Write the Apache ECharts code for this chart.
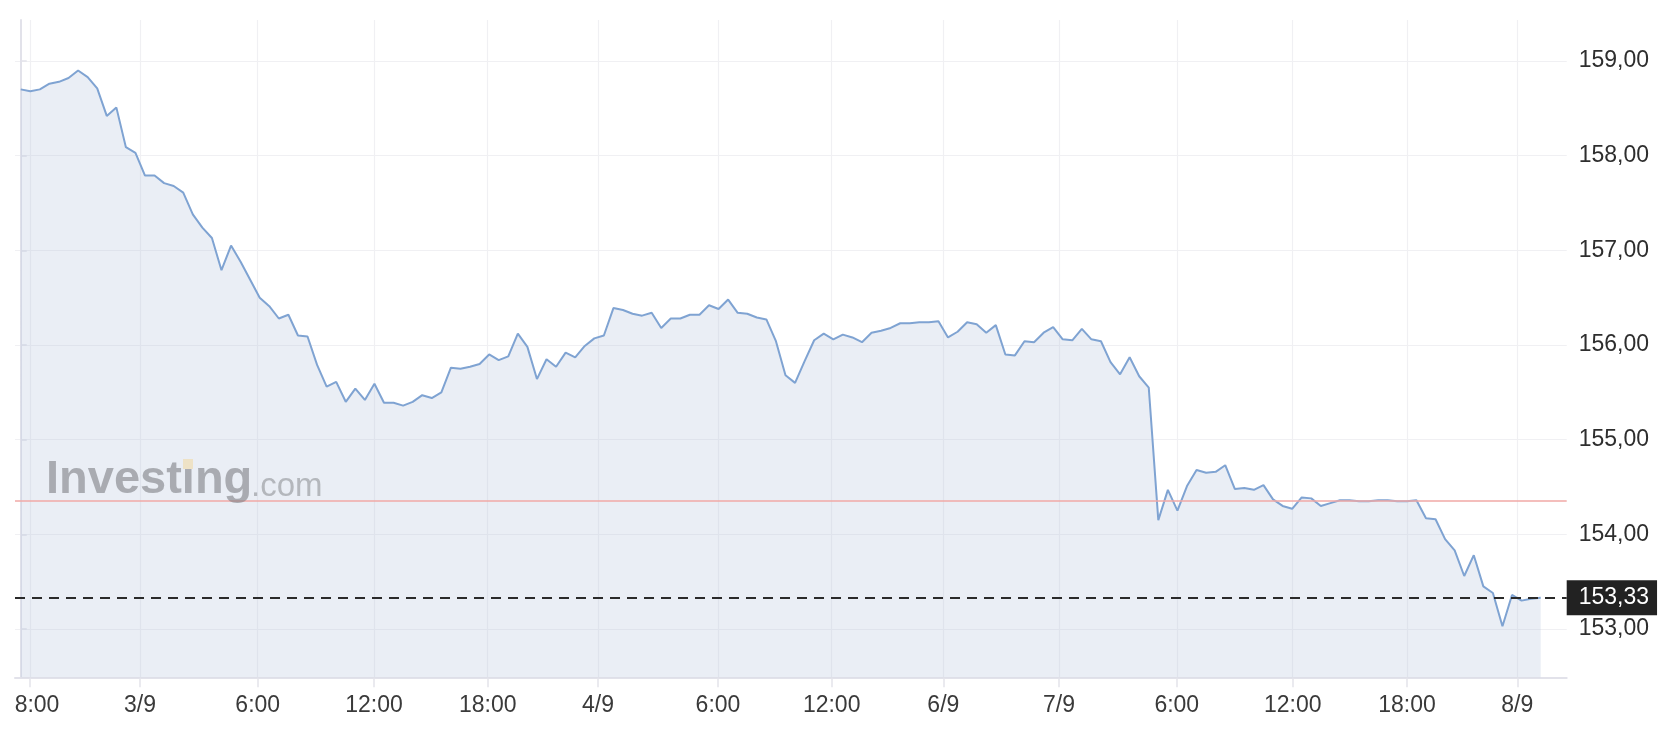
<!DOCTYPE html>
<html>
<head>
<meta charset="utf-8">
<script src="https://cdn.jsdelivr.net/npm/echarts@6/dist/echarts.min.js"></script>
<style>
html,body{margin:0;padding:0;background:#ffffff;}
#chart{width:1678px;height:732px;}
</style>
</head>
<body>
<div id="chart"></div>
<script>
// Prices (30-minute steps), split in three segments
const pricesSegment1 = [
  158.70, 158.68, 158.70, 158.76, 158.78, 158.82, 158.90, 158.83, 158.71, 158.42,
  158.51, 158.09, 158.03, 157.79, 157.79, 157.71, 157.68, 157.61, 157.38, 157.24,
  157.13, 156.79, 157.05, 156.88, 156.69, 156.50, 156.41, 156.28, 156.32, 156.10,
  156.09, 155.79, 155.56, 155.61, 155.40, 155.54, 155.42, 155.59, 155.39, 155.39,
  155.36, 155.40, 155.47, 155.44, 155.50, 155.76, 155.75, 155.77, 155.80, 155.90,
  155.84, 155.88, 156.12
];
const pricesSegment2 = [
  155.98, 155.64, 155.85, 155.77, 155.92, 155.87, 155.99, 156.07, 156.10, 156.39,
  156.37, 156.33, 156.31, 156.34, 156.18, 156.28, 156.28, 156.32, 156.32, 156.42,
  156.38, 156.48, 156.34, 156.33, 156.29, 156.27, 156.04, 155.68, 155.60, 155.83,
  156.05, 156.12, 156.06, 156.11, 156.08, 156.03, 156.13, 156.15, 156.18, 156.23,
  156.23, 156.24, 156.24, 156.25, 156.08, 156.14, 156.24, 156.22, 156.13, 156.21,
  155.90, 155.89, 156.04
];
const pricesSegment3 = [
  156.03, 156.13, 156.19, 156.06, 156.05, 156.17, 156.06, 156.04, 155.82, 155.69,
  155.87, 155.67, 155.55, 154.15, 154.47, 154.25, 154.51, 154.68, 154.65, 154.66,
  154.73, 154.48, 154.49, 154.47, 154.52, 154.37, 154.30, 154.27, 154.39, 154.38,
  154.30, 154.33, 154.36, 154.36, 154.35, 154.35, 154.36, 154.36, 154.35, 154.35,
  154.36, 154.17, 154.16, 153.95, 153.83, 153.56, 153.78, 153.45, 153.38, 153.03,
  153.36, 153.30, 153.32, 153.33
];

// x-axis tick positions (in data-point index units) and their labels
const xTickPositions = [0.97, 12.48, 24.79, 36.96, 48.85, 60.39, 72.94, 84.83, 96.51, 108.61, 120.93, 133.06, 145.01, 156.55];
const xTickLabels = ['8:00', '3/9', '6:00', '12:00', '18:00', '4/9', '6:00', '12:00', '6/9', '7/9', '6:00', '12:00', '18:00', '8/9'];

// y-axis tick values
const yTickValues = [153, 154, 155, 156, 157, 158, 159];

// reference lines
const referenceLevel = 154.36;
const lastPrice = 153.33;

const prices = pricesSegment1.concat(pricesSegment2, pricesSegment3);
const seriesData = prices.map((v, i) => [i, v]);

const FONT = '"Liberation Sans", Arial, Helvetica, sans-serif';
const fmtNum = v => Number(v).toFixed(2).replace('.', ',');

function xLabelFor(v) {
  let best = 0, bd = Infinity;
  xTickPositions.forEach((p, i) => { const d = Math.abs(p - v); if (d < bd) { bd = d; best = i; } });
  const t = xTickLabels[best];
  return best === 0 ? '{first|' + t + '}' : t;
}

const chart = echarts.init(document.getElementById('chart'), null, { renderer: 'canvas' });

const option = {
  animation: false,
  backgroundColor: '#ffffff',
  grid: { left: 15, right: 111.3, top: 20, bottom: 54.7, containLabel: false },
  xAxis: {
    type: 'value',
    min: -0.6,
    max: 161.72,
    axisLine: { show: true, lineStyle: { color: '#e2e2ea', width: 2 } },
    axisTick: { show: true, customValues: xTickPositions, length: 10, lineStyle: { color: '#e4e4ea', width: 1.5 } },
    axisLabel: {
      customValues: xTickPositions,
      margin: 17,
      color: '#3a3a3a',
      fontSize: 23,
      fontFamily: FONT,
      formatter: xLabelFor,
      rich: { first: { padding: [0, 0, 0, 14], fontSize: 23, color: '#3a3a3a', fontFamily: FONT } }
    },
    splitLine: { show: true, lineStyle: { color: '#f0f0f3', width: 1.2 } }
  },
  yAxis: {
    type: 'value',
    position: 'right',
    min: 152.49,
    max: 159.433,
    axisLine: { show: true, lineStyle: { color: '#e2e2ea', width: 2 } },
    axisTick: { show: true, customValues: yTickValues, length: 6, lineStyle: { color: '#e2e2ea', width: 1.5 } },
    axisLabel: {
      customValues: yTickValues,
      margin: 12,
      color: '#2e2e2e',
      fontSize: 23,
      fontFamily: FONT,
      formatter: fmtNum
    },
    splitLine: { show: true, lineStyle: { color: '#f0f0f3', width: 1.2 } }
  },
  series: [{
    type: 'line',
    data: seriesData,
    symbol: 'none',
    showSymbol: false,
    lineStyle: { color: '#7fa3d2', width: 2 },
    areaStyle: { color: 'rgba(185,198,222,0.42)', origin: 'start' },
    z: 2,
    markLine: {
      silent: true,
      symbol: ['none', 'none'],
      animation: false,
      data: [
        { yAxis: referenceLevel, lineStyle: { color: '#f0a9a6', width: 1.5, type: 'solid' }, label: { show: false } },
        {
          yAxis: lastPrice,
          lineStyle: { color: '#2a2a2a', width: 1.8, type: [10, 7] },
          label: {
            show: true, position: 'end', distance: 0,
            formatter: fmtNum(lastPrice),
            backgroundColor: '#222222', color: '#ffffff',
            fontSize: 23, fontFamily: FONT, lineHeight: 23,
            padding: [6, 8, 6, 12]
          }
        }
      ]
    }
  }],
  graphic: [
    {
      type: 'text', left: 46, top: 457, z: 10, silent: true,
      style: { text: 'Investing', fill: 'rgba(125,127,132,0.6)', font: 'bold 47px ' + FONT }
    },
    {
      type: 'rect', left: 183, top: 459, z: 11, silent: true,
      shape: { width: 10, height: 10 },
      style: { fill: '#eee2c6' }
    },
    {
      type: 'text', left: 251, top: 470, z: 10, silent: true,
      style: { text: '.com', fill: 'rgba(125,127,132,0.5)', font: '33px ' + FONT }
    }
  ]
};

chart.setOption(option);
</script>
</body>
</html>
